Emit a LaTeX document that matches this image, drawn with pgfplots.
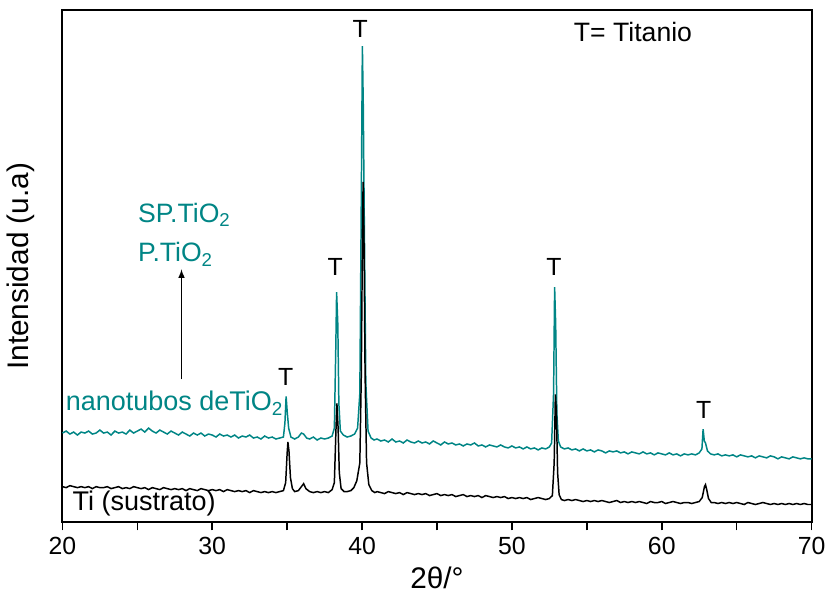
\documentclass[border=0pt]{standalone}
\usepackage{pgfplots}
\pgfplotsset{compat=1.18}
\usepackage{fontspec}
\setmainfont{Liberation Sans}
\definecolor{tealc}{RGB}{0,133,133}
\begin{document}
\begin{tikzpicture}
\begin{axis}[
  scale only axis,
  width=377.5pt, height=258pt,
  xmin=20, xmax=70, ymin=0, ymax=516,
  xtick={20,30,40,50,60,70},
  minor xtick={25,35,45,55,65},
  xtick pos=bottom, tick align=outside,
  ytick=\empty,
  major tick length=4pt, minor tick length=4pt,
  every tick/.style={black, line width=0.8pt},
  axis line style={line width=1pt},
  /pgf/number format/assume math mode=true,
  ticklabel style={font=\fontsize{12.5}{14}\selectfont},
  xlabel={2θ/°},
  ylabel={Intensidad (u.a)},
  label style={font=\fontsize{15}{17}\selectfont},
  xlabel style={yshift=1pt},
  ylabel style={yshift=6.6pt},
  clip=false,
]
\addplot[color=tealc, line width=0.75pt] coordinates {
(20.00,90)(20.25,92)(20.50,89)(20.75,91)(21.00,88)(21.25,91)(21.50,90)(21.75,92)(22.00,89)(22.25,90)(22.50,93)(22.75,90)(23.00,91)(23.25,88)(23.50,92)(23.75,90)(24.00,91)(24.25,89)(24.50,93)(24.75,90)(25.00,92)(25.25,94)(25.50,91)(25.75,95)(26.00,92)(26.25,90)(26.50,93)(26.75,91)(27.00,89)(27.25,92)(27.50,90)(27.75,88)(28.00,91)(28.25,89)(28.50,87)(28.75,90)(29.00,88)(29.25,90)(29.50,87)(29.75,89)(30.00,88)(30.25,86)(30.50,89)(30.75,87)(31.00,88)(31.25,86)(31.50,88)(31.75,85)(32.00,87)(32.25,86)(32.50,88)(32.75,85)(33.00,86)(33.25,84)(33.50,87)(33.75,85)(34.00,86)(34.25,84)(34.50,85)(34.75,86)(34.85,100)(34.93,127)(35.00,112)(35.10,95)(35.25,86)(35.50,84)(35.75,86)(35.95,90)(36.10,89)(36.30,85)(36.50,84)(36.75,86)(37.00,83)(37.25,85)(37.50,84)(37.75,85)(38.00,87)(38.15,95)(38.25,180)(38.30,232)(38.38,200)(38.45,120)(38.55,92)(38.75,88)(39.00,86)(39.25,87)(39.50,89)(39.70,95)(39.85,130)(39.95,330)(40.02,480)(40.08,420)(40.15,300)(40.25,140)(40.40,92)(40.60,85)(40.80,83)(41.00,84)(41.25,82)(41.50,83)(41.75,81)(42.00,84)(42.25,81)(42.50,82)(42.75,80)(43.00,83)(43.25,81)(43.50,80)(43.75,82)(44.00,80)(44.25,81)(44.50,79)(44.75,82)(45.00,80)(45.25,78)(45.50,81)(45.75,79)(46.00,80)(46.25,78)(46.50,79)(46.75,77)(47.00,79)(47.25,78)(47.50,80)(47.75,77)(48.00,78)(48.25,76)(48.50,78)(48.75,77)(49.00,76)(49.25,78)(49.50,76)(49.75,75)(50.00,77)(50.25,75)(50.50,76)(50.75,74)(51.00,76)(51.25,74)(51.50,75)(51.75,73)(52.00,75)(52.25,74)(52.50,76)(52.65,80)(52.78,130)(52.85,237)(52.92,200)(53.00,110)(53.10,82)(53.25,76)(53.50,74)(53.75,75)(54.00,73)(54.25,74)(54.50,72)(54.75,74)(55.00,72)(55.25,73)(55.50,71)(55.75,73)(56.00,72)(56.25,70)(56.50,72)(56.75,71)(57.00,72)(57.25,70)(57.50,71)(57.75,69)(58.00,71)(58.25,70)(58.50,69)(58.75,71)(59.00,69)(59.25,70)(59.50,68)(59.75,70)(60.00,69)(60.25,68)(60.50,70)(60.75,68)(61.00,69)(61.25,67)(61.50,69)(61.75,68)(62.00,69)(62.25,68)(62.50,70)(62.68,74)(62.76,94)(62.84,82)(62.92,80)(63.05,72)(63.25,69)(63.50,68)(63.75,69)(64.00,67)(64.25,68)(64.50,67)(64.75,68)(65.00,66)(65.25,68)(65.50,67)(65.75,66)(66.00,67)(66.25,65)(66.50,67)(66.75,66)(67.00,65)(67.25,67)(67.50,66)(67.75,64)(68.00,66)(68.25,65)(68.50,64)(68.75,66)(69.00,65)(69.25,64)(69.50,65)(69.75,64)(70.00,64)
};
\addplot[color=black, line width=0.75pt] coordinates {
(20.00,36)(20.25,35)(20.50,37)(20.75,36)(21.00,35)(21.25,36)(21.50,35)(21.75,36)(22.00,34)(22.25,36)(22.50,35)(22.75,35)(23.00,36)(23.25,34)(23.50,35)(23.75,36)(24.00,34)(24.25,35)(24.50,34)(24.75,36)(25.00,35)(25.25,34)(25.50,35)(25.75,33)(26.00,35)(26.25,34)(26.50,33)(26.75,35)(27.00,34)(27.25,33)(27.50,34)(27.75,33)(28.00,34)(28.25,32)(28.50,34)(28.75,33)(29.00,32)(29.25,34)(29.50,33)(29.75,32)(30.00,33)(30.25,32)(30.50,33)(30.75,31)(31.00,33)(31.25,32)(31.50,31)(31.75,32)(32.00,31)(32.25,32)(32.50,30)(32.75,32)(33.00,31)(33.25,30)(33.50,31)(33.75,30)(34.00,31)(34.25,30)(34.50,31)(34.75,32)(34.90,40)(35.00,70)(35.05,81)(35.12,72)(35.22,45)(35.35,34)(35.50,31)(35.75,32)(35.95,36)(36.10,39)(36.25,34)(36.50,31)(36.75,30)(37.00,31)(37.25,30)(37.50,31)(37.75,30)(38.00,33)(38.15,40)(38.25,90)(38.32,120)(38.40,95)(38.48,50)(38.60,34)(38.80,31)(39.00,31)(39.25,32)(39.45,35)(39.65,42)(39.85,60)(39.95,150)(40.03,300)(40.07,343)(40.13,280)(40.20,150)(40.30,60)(40.45,38)(40.65,32)(40.85,30)(41.00,31)(41.25,30)(41.50,29)(41.75,31)(42.00,30)(42.25,29)(42.50,30)(42.75,28)(43.00,30)(43.25,29)(43.50,28)(43.75,29)(44.00,28)(44.25,29)(44.50,27)(44.75,28)(45.00,29)(45.25,27)(45.50,28)(45.75,27)(46.00,28)(46.25,26)(46.50,27)(46.75,28)(47.00,26)(47.25,27)(47.50,26)(47.75,27)(48.00,25)(48.25,27)(48.50,26)(48.75,25)(49.00,26)(49.25,25)(49.50,26)(49.75,24)(50.00,25)(50.25,24)(50.50,25)(50.75,24)(51.00,25)(51.25,23)(51.50,24)(51.75,25)(52.00,24)(52.25,23)(52.50,24)(52.70,27)(52.82,60)(52.90,129)(52.97,110)(53.05,50)(53.15,28)(53.30,23)(53.50,22)(53.75,23)(54.00,22)(54.25,23)(54.50,22)(54.75,21)(55.00,22)(55.25,21)(55.50,22)(55.75,21)(56.00,22)(56.25,21)(56.50,20)(56.75,21)(57.00,22)(57.25,20)(57.50,21)(57.75,20)(58.00,21)(58.25,20)(58.50,21)(58.75,20)(59.00,19)(59.25,21)(59.50,20)(59.75,20)(60.00,21)(60.25,19)(60.50,20)(60.75,21)(61.00,20)(61.25,19)(61.50,20)(61.75,20)(62.00,19)(62.25,20)(62.50,21)(62.70,25)(62.85,36)(62.92,38)(63.00,33)(63.12,24)(63.30,20)(63.50,20)(63.75,19)(64.00,20)(64.25,19)(64.50,20)(64.75,19)(65.00,20)(65.25,19)(65.50,18)(65.75,20)(66.00,19)(66.25,18)(66.50,19)(66.75,20)(67.00,19)(67.25,18)(67.50,19)(67.75,18)(68.00,19)(68.25,18)(68.50,19)(68.75,18)(69.00,19)(69.25,18)(69.50,19)(69.75,18)(70.00,18)
};
\begin{scope}[every node/.style={font=\fontsize{12.5}{14}\selectfont, inner sep=0pt}]
\node at (axis cs:34.9,147) {T};
\node at (axis cs:38.2,257) {T};
\node at (axis cs:39.87,497) {T};
\node at (axis cs:52.8,257) {T};
\node at (axis cs:62.8,113) {T};
\end{scope}
\node[font=\fontsize{13.4}{15}\selectfont, inner sep=0pt] at (axis cs:58.08,494) {T= Titanio};
\node[anchor=west, text=tealc, font=\fontsize{13.4}{15}\selectfont, inner sep=0pt] at (axis cs:25.03,310) {SP.TiO\textsubscript{2}};
\node[anchor=west, text=tealc, font=\fontsize{13.4}{15}\selectfont, inner sep=0pt] at (axis cs:25.03,270) {P.TiO\textsubscript{2}};
\draw[-latex, line width=0.5pt] (axis cs:27.95,144) -- (axis cs:27.95,255);
\node[anchor=west, text=tealc, font=\fontsize{13.6}{15}\selectfont, inner sep=0pt] at (axis cs:20.2,120) {nanotubos deTiO\textsubscript{2}};
\node[anchor=west, font=\fontsize{13.6}{15}\selectfont, inner sep=0pt] at (axis cs:20.66,19) {Ti (sustrato)};
\node[inner sep=0pt, minimum size=0pt, anchor=south] at (axis cs:45,526) {};
\end{axis}
\end{tikzpicture}
\end{document}
